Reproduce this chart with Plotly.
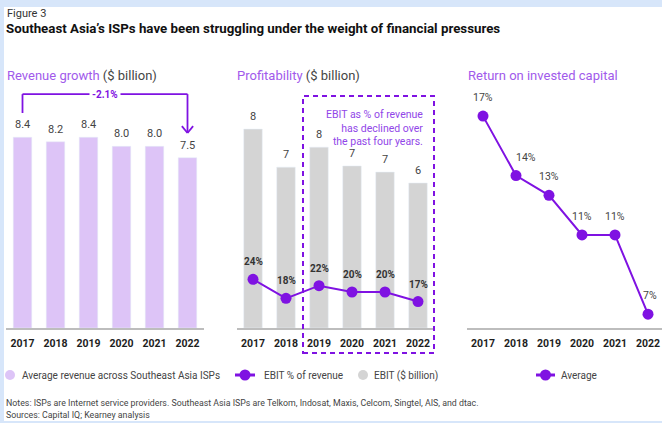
import plotly.graph_objects as go

# ---------------- data ----------------
years = ["2017", "2018", "2019", "2020", "2021", "2022"]
revenue = [8.4, 8.2, 8.4, 8.0, 8.0, 7.5]            # $ billion
ebit = [8.37, 6.77, 7.61, 6.82, 6.56, 6.10]          # $ billion
ebit_pct = [24, 18, 22, 20, 20, 17]                  # % of revenue
roic = [17, 14, 13, 11, 11, 7]                       # %
revenue_change = "-2.1%"

# ---------------- style ----------------
W, H = 662, 423
PURPLE = "#7F12E2"
PURPLE_T = "#A15AEB"
LIGHT_PURPLE = "#DDC4F7"
GRAY_BAR = "#D4D4D4"
AXIS = "#BDBDBD"
FONT = "Roboto"


def fx(p):
    return p / W


def fy(p):
    return 1 - p / H


ydom = [fy(328), fy(88)]

fig = go.Figure()
fig.add_trace(go.Bar(x=years, y=revenue, xaxis="x", yaxis="y", marker_color=LIGHT_PURPLE,
                     width=0.56, showlegend=False, hoverinfo="skip"))
fig.add_trace(go.Bar(x=years, y=ebit, xaxis="x2", yaxis="y2", marker_color=GRAY_BAR,
                     width=0.56, showlegend=False, hoverinfo="skip"))
fig.add_trace(go.Scatter(x=years, y=ebit_pct, xaxis="x2", yaxis="y3", mode="lines+markers",
                         line=dict(color=PURPLE, width=2), marker=dict(color=PURPLE, size=11),
                         showlegend=False, cliponaxis=False))
fig.add_trace(go.Scatter(x=years, y=roic, xaxis="x3", yaxis="y4", mode="lines+markers",
                         line=dict(color=PURPLE, width=2), marker=dict(color=PURPLE, size=11),
                         showlegend=False, cliponaxis=False))

xcommon = dict(type="category", showline=True, linecolor=AXIS, linewidth=1.5, showgrid=False,
               zeroline=False, ticks="outside", ticklen=5, tickcolor="rgba(0,0,0,0)",
               tickfont=dict(family=FONT, size=10.5, color="#1E1E1E", weight="bold"), fixedrange=True)
ycommon = dict(visible=False, showgrid=False, zeroline=False, fixedrange=True, domain=ydom)
n = len(years)

fig.update_layout(
    width=W, height=H, margin=dict(l=0, r=0, t=0, b=0),
    paper_bgcolor="#D7E6FA", plot_bgcolor="rgba(0,0,0,0)",
    font=dict(family=FONT, color="#333"),
    xaxis=dict(xcommon, domain=[fx(6), fx(204)], anchor="y", range=[-0.5, n - 0.5]),
    xaxis2=dict(xcommon, domain=[fx(236.5), fx(434.5)], anchor="y2", range=[-0.5, n - 0.5]),
    xaxis3=dict(xcommon, domain=[fx(466.5), 1], anchor="y4", range=[-0.5, n - 0.576]),
    yaxis=dict(ycommon, range=[0, 10.57], anchor="x"),
    yaxis2=dict(ycommon, range=[0, 10.1], anchor="x2"),
    yaxis3=dict(visible=False, range=[8.64, 84.4], overlaying="y2", anchor="x2", fixedrange=True),
    yaxis4=dict(ycommon, range=[6.3, 18.42], anchor="x3"),
)

shapes = []
ann = []

# white card
shapes.append(dict(type="rect", xref="paper", yref="paper", x0=fx(4), x1=1, y0=fy(421), y1=fy(7),
                   fillcolor="white", line=dict(width=0), layer="below"))

# headings
ann.append(dict(text="Figure 3", x=fx(5), y=fy(13), xref="paper", yref="paper", xanchor="left",
                yanchor="middle", showarrow=False, font=dict(size=11, color="#333", family=FONT)))
ann.append(dict(text="<b>Southeast Asia’s ISPs have been struggling under the weight of financial pressures</b>",
                x=fx(4), y=fy(29), xref="paper", yref="paper", xanchor="left", yanchor="middle",
                showarrow=False, font=dict(size=13.3, color="#111", family=FONT)))
for txt, px0 in [("<span style='color:%s'>Revenue growth</span> ($ billion)" % PURPLE_T, 5),
                 ("<span style='color:%s'>Profitability</span> ($ billion)" % PURPLE_T, 235),
                 ("<span style='color:%s'>Return on invested capital</span>" % PURPLE_T, 466)]:
    ann.append(dict(text=txt, x=fx(px0), y=fy(75), xref="paper", yref="paper", xanchor="left",
                    yanchor="middle", showarrow=False, font=dict(size=13, color="#444", family=FONT)))

# value labels (category axes take the category's serial number)
for i, v in enumerate(revenue):
    ann.append(dict(text=f"{v:.1f}", x=i, y=v, xref="x", yref="y", yanchor="bottom", yshift=4,
                    showarrow=False, font=dict(size=11, color="#444")))
for i, v in enumerate(ebit):
    ann.append(dict(text=f"{v:.0f}", x=i, y=v, xref="x2", yref="y2", yanchor="bottom", yshift=4,
                    showarrow=False, font=dict(size=11, color="#444")))
for i, v in enumerate(ebit_pct):
    ann.append(dict(text=f"<b>{v}%</b>", x=i, y=v, xref="x2", yref="y3", yanchor="bottom", yshift=10,
                    showarrow=False, font=dict(size=10, color="#333")))
label_dx = {1: 10, 5: 2}
for i, v in enumerate(roic):
    ann.append(dict(text=f"{v}%", x=i, y=v, xref="x3", yref="y4", yanchor="bottom", yshift=10,
                    xshift=label_dx.get(i, 0), showarrow=False, font=dict(size=10.5, color="#444")))

# revenue change bracket
i0, i1 = 0, n - 1
y_left = revenue[i0] + 1.07
y_top = max(revenue) + 1.9
y_right = revenue[i1] + 1.09
bl = dict(color=PURPLE, width=1.8)
shapes += [
    dict(type="line", xref="x", yref="y", x0=i0, x1=i0, y0=y_left, y1=y_top, line=bl),
    dict(type="line", xref="x", yref="y", x0=i0, x1=i1, y0=y_top, y1=y_top, line=bl),
    dict(type="line", xref="x", yref="y", x0=i1, x1=i1, y0=y_top, y1=y_right, line=bl),
    dict(type="line", xref="x", yref="y", x0=i1 - 0.17, x1=i1, y0=y_right + 0.3, y1=y_right, line=bl),
    dict(type="line", xref="x", yref="y", x0=i1 + 0.17, x1=i1, y0=y_right + 0.3, y1=y_right, line=bl),
]
ann.append(dict(text=f"<b>{revenue_change}</b>", x=(i0 + i1) / 2, y=y_top, xref="x", yref="y",
                showarrow=False, bgcolor="white", borderpad=2, font=dict(size=10, color=PURPLE)))

# dashed highlight box
shapes.append(dict(type="rect", xref="paper", yref="paper", x0=fx(303), x1=fx(434), y0=fy(353), y1=fy(96),
                   line=dict(color=PURPLE, width=2, dash="5px,4px"), fillcolor="rgba(0,0,0,0)"))
ann.append(dict(text="EBIT as % of revenue<br>has declined over<br>the past four years.",
                x=fx(425), y=fy(106), xref="paper", yref="paper", xanchor="right", yanchor="top",
                align="right", showarrow=False, font=dict(size=10.5, color="#9146E8")))

# legend
ly = fy(375)


def circ(cx, color, r=5):
    return dict(type="circle", xref="paper", yref="paper", x0=fx(cx - r), x1=fx(cx + r),
                y0=fy(375 + r), y1=fy(375 - r), fillcolor=color, line=dict(width=0))


shapes.append(circ(10, LIGHT_PURPLE))
shapes.append(dict(type="line", xref="paper", yref="paper", x0=fx(235), x1=fx(255), y0=ly, y1=ly,
                   line=dict(color=PURPLE, width=3)))
shapes.append(circ(245, PURPLE, 5.5))
shapes.append(circ(363, GRAY_BAR))
shapes.append(dict(type="line", xref="paper", yref="paper", x0=fx(536), x1=fx(555), y0=ly, y1=ly,
                   line=dict(color=PURPLE, width=3)))
shapes.append(circ(545.5, PURPLE, 5.5))
for txt, px0 in [("Average revenue across Southeast Asia ISPs", 20), ("EBIT % of revenue", 262),
                 ("EBIT ($ billion)", 372), ("Average", 559)]:
    ann.append(dict(text=txt, x=fx(px0), y=ly, xref="paper", yref="paper", xanchor="left",
                    yanchor="middle", showarrow=False, font=dict(size=10, color="#444")))

# footnotes
ann.append(dict(text="Notes: ISPs are Internet service providers. Southeast Asia ISPs are Telkom, Indosat, "
                     "Maxis, Celcom, Singtel, AIS, and dtac.",
                x=fx(4), y=fy(403), xref="paper", yref="paper", xanchor="left", yanchor="middle",
                showarrow=False, font=dict(size=8.8, color="#444")))
ann.append(dict(text="Sources: Capital IQ; Kearney analysis", x=fx(4), y=fy(415), xref="paper",
                yref="paper", xanchor="left", yanchor="middle", showarrow=False,
                font=dict(size=8.8, color="#444")))

fig.update_layout(shapes=shapes, annotations=ann)
fig.write_html("out.html")
